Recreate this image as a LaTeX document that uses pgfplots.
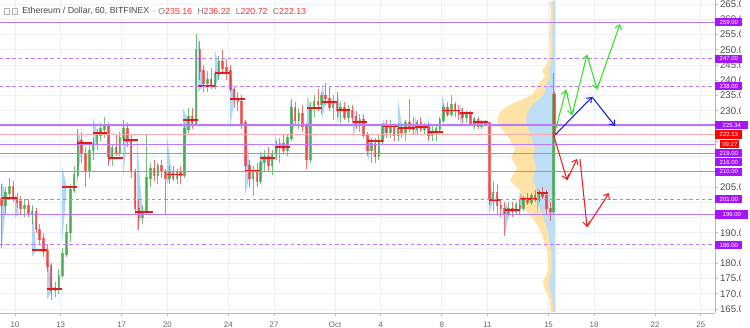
\documentclass[border=0pt]{standalone}
\usepackage{pgfplots}
\pgfplotsset{compat=1.18}
\usepackage{pgfplotstable}
\usepackage{fontspec}
\setmainfont{Liberation Sans}
\usetikzlibrary{arrows.meta}

\definecolor{gridc}{RGB}{236,240,247}
\definecolor{upc}{RGB}{60,165,60}
\definecolor{dnc}{RGB}{240,55,55}
\definecolor{pocc}{RGB}{232,25,25}
\definecolor{levc}{RGB}{188,120,250}
\definecolor{tagv}{RGB}{165,20,250}
\definecolor{salm}{RGB}{250,170,170}
\definecolor{vpo}{RGB}{255,226,165}
\definecolor{vpb}{RGB}{190,222,247}
\definecolor{sesb}{RGB}{110,178,240}
\definecolor{arg}{RGB}{50,225,40}
\definecolor{arb}{RGB}{25,25,225}
\definecolor{arr}{RGB}{240,30,30}
\definecolor{titc}{RGB}{70,70,70}
\definecolor{numr}{RGB}{250,50,50}

\pgfplotstableread{
x o h l c
-0.875 201 206 185 199
-0.625 199 205 196 203
-0.375 203 208 201 205
-0.125 205 207 200 201
0.125 201 203 198 200
0.375 200 202 196 198
0.625 198 201 195 199
0.875 199 201 195 196
1.125 196 199 193 197
1.375 197 198 190 191
1.625 191 193 186 188
1.875 188 190 182 184
2.125 184 186 177 179
2.375 179 180 168 171
2.625 171 174 169 172
2.875 172 178 170 176
3.125 176 185 175 183
3.375 183 193 182 190
3.625 190 206 187 204
3.875 204 212 203 209
4.125 209 224 208 220
4.375 220 223 213 216
4.625 216 218 205 210
4.875 210 219 208 217
5.125 217 221 214 219
5.375 219 224 217 222
5.625 222 226 220 224
5.875 224 228 221 225
6.125 225 226 212 215
6.375 215 219 212 218
6.625 218 222 215 216
6.875 216 223 215 221
7.125 221 227 219 224
7.375 224 226 218 220
7.625 220 222 208 210
7.875 210 211 196 198
8.125 198 201 191 195
8.375 195 199 193 197
8.625 197 222 196 208
8.875 208 213 205 211
9.125 211 214 207 209
9.375 209 213 206 212
9.625 212 214 208 210
9.875 210 211 196 208
10.125 208 212 206 210
10.375 210 212 207 208
10.625 208 211 206 210
10.875 210 212 206 209
11.125 209 226 208 224
11.375 224 231 222 228
11.625 228 231 224 226
11.875 226 255 225 250
12.125 250 253 240 243
12.375 243 245 236 239
12.625 239 243 236 240
12.875 240 244 237 238
13.125 238 243 237 242
13.375 242 248 240 246
13.625 246 250 242 244
13.875 244 247 240 243
14.125 243 245 236 237
14.375 237 238 231 234
14.625 234 236 230 233
14.875 233 235 224 226
15.125 226 227 210 212
15.375 212 214 205 208
15.625 208 212 202 210
15.875 210 213 205 207
16.125 207 214 206 213
16.375 213 217 210 215
16.625 215 218 210 212
16.875 212 217 209 216
17.125 216 220 214 218
17.375 218 221 213 219
17.625 219 222 216 217
17.875 217 222 215 221
18.125 221 234 220 231
18.375 231 233 225 227
18.625 227 231 224 229
18.875 229 232 223 225
19.125 225 226 211 214
19.375 214 233 213 231
19.625 231 235 228 233
19.875 233 237 230 232
20.125 232 236 229 235
20.375 235 239 232 234
20.625 234 238 230 231
20.875 231 235 227 233
21.125 233 236 228 230
21.375 230 233 226 231
21.625 231 233 227 228
21.875 228 232 226 230
22.125 230 232 226 228
22.375 228 230 224 226
22.625 226 229 223 227
22.875 227 229 221 222
23.125 222 223 215 217
23.375 217 221 213 219
23.625 219 221 213 215
23.875 215 222 214 220
24.125 220 226 219 225
24.375 225 227 221 223
24.625 223 227 221 225
24.875 225 226 220 222
25.125 222 226 220 224
25.375 224 226 221 223
25.625 223 227 220 226
25.875 226 234 223 225
26.125 225 228 222 224
26.375 224 227 222 226
26.625 226 228 223 224
26.875 224 226 222 225
27.125 225 226 220 222
27.375 222 225 220 223
27.625 223 225 220 224
27.875 224 228 223 227
28.125 227 232 226 231
28.375 231 233 228 229
28.625 229 235 228 232
28.875 232 233 228 230
29.125 230 232 227 229
29.375 229 231 226 228
29.625 228 230 226 229
29.875 229 230 225 226
30.125 226 228 224 227
30.375 227 228 224 225
30.625 225 227 224 226
30.875 226 227 225 226
31.125 226 226 199 201
31.375 201 207 197 203
31.625 203 206 196 199
31.875 199 201 195 198
32.125 198 200 189 196
32.375 196 200 195 198
32.625 198 200 195 197
32.875 197 200 196 199
33.125 199 201 196 198
33.375 198 202 197 201
33.625 201 203 199 200
33.875 200 203 199 202
34.125 202 204 200 201
34.375 201 204 200 203
34.625 203 205 201 202
34.875 202 204 196 198
35.125 198 200 194 197
35.33 197 242.4 196 235.2
35.40 235.16 236.22 220.72 222.13
}\candles

\newcommand{\seg}[5]{\addplot[#1, line width=0.6pt, mark=none, -{Straight Barb[length=2.5pt,width=4pt]}] coordinates {(#2,#3) (#4,#5)};}
\newcommand{\lev}[2]{\addplot[#1, mark=none] coordinates {(-1,#2) (46,#2)};}
\pgfplotsset{candle/.style n args={2}{draw=none, mark=none, forget plot,
  error bars/.cd, y dir=both, y explicit, error mark=none,
  error bar style={draw=#1, draw opacity=0.7, solid, line width=#2}}}

\begin{document}
\begin{tikzpicture}
\begin{axis}[
  at={(0,0)}, anchor=south west,
  scale only axis, width=14.3cm, height=6.26cm,
  xmin=-0.984, xmax=45.93, ymin=163.69, ymax=266.31,
  clip mode=individual,
  axis x line*=bottom, axis y line*=right,
  axis line style={gray!55, line width=0.5pt},
  tick align=outside, major tick length=0.06cm,
  tick style={gray!55, line width=0.4pt},
  xtick={0,3,7,10,14,17,21,24,28,31,35,38,42,45},
  xticklabels={10,13,17,20,24,27,Oct,4,8,11,15,18,22,25},
  ytick={165,170,...,265},
  yticklabels={165.0,170.0,175.0,180.0,,190.0,,,205.0,,,,,230.0,235.0,240.0,245.0,250.0,255.0,260.0,265.0},
  grid=major, major grid style={gridc, line width=0.5pt},
  yticklabel style={font=\fontsize{5.5}{6}\selectfont, text=black!70, inner xsep=1pt},
  xticklabel style={font=\fontsize{4.5}{5}\selectfont, text=black!60},
  unbounded coords=jump,
]
% big volume profile
\addplot[fill=vpo, draw=none, mark=none] coordinates {
(35.45,164) (35.17,164) (35.10,166) (35.10,168) (34.91,170) (34.71,172) (34.65,174) (34.84,176)
(34.97,178) (34.97,180) (34.97,182) (34.91,184) (34.78,186) (34.65,188) (34.51,190) (34.32,192)
(34.12,193.5) (33.92,195) (33.66,196.5) (33.46,198) (33.20,199.5) (33.01,201) (33.07,202.5) (33.14,204)
(32.81,205.5) (32.48,207) (32.61,208.5) (32.81,210) (32.94,211.5) (32.74,213) (32.55,214.5) (32.68,216)
(32.81,217.5) (32.61,219) (32.48,220.5) (32.22,222) (32.02,223.5) (31.82,225) (31.63,226.5) (31.69,228)
(31.82,229.5) (32.15,231) (32.68,232.5) (33.46,234) (33.99,235.5) (34.19,237) (34.32,238.5) (34.58,240)
(34.78,241.5) (34.58,243) (34.84,245) (35.04,247) (35.10,250) (35.04,255) (35.10,259) (35.17,262) (35.04,265.5) (35.45,266.3)
} -- cycle;
\addplot[fill=vpb, draw=none, mark=none] coordinates {
(35.45,164) (35.31,164) (35.275,166) (35.275,168) (35.18,170) (35.08,172) (35.05,174) (35.145,176)
(35.21,178) (35.21,180) (35.21,182) (35.18,184) (35.115,186) (35.05,188) (34.98,190) (34.885,192)
(34.785,193.5) (34.685,195) (34.555,196.5) (34.455,198) (34.325,199.5) (34.23,201) (34.26,202.5) (34.295,204)
(34.13,205.5) (33.965,207) (34.03,208.5) (34.13,210) (34.195,211.5) (34.095,213) (34.00,214.5) (34.065,216)
(34.13,217.5) (34.03,219) (33.965,220.5) (33.835,222) (33.735,223.5) (33.635,225) (33.54,226.5) (33.57,228)
(33.635,229.5) (33.80,231) (34.065,232.5) (34.455,234) (34.72,235.5) (34.82,237) (34.885,238.5) (35.015,240)
(35.115,241.5) (35.015,243) (35.145,245) (35.245,247) (35.275,250) (35.245,255) (35.275,259) (35.31,262) (35.245,265.5) (35.45,266.3)
} -- cycle;
% session volume profiles
\addplot[fill=sesb, fill opacity=0.55, draw=none, mark=none] coordinates {
(-0.85,186) (-0.55,201.4) (-0.85,207) (-0.85,nan)
(0,195) (0.25,196) (0,203) (0,nan)
(1.12,182) (1.4,184.3) (1.12,199) (1.12,nan)
(2.10,168) (2.5,171.6) (2.10,182) (2.10,nan)
(3.08,186) (3.4,205) (3.08,212) (3.08,nan)
(4.07,205) (4.4,219.4) (4.07,224) (4.07,nan)
(5.12,214) (5.4,222.7) (5.12,228) (5.12,nan)
(6.10,212) (6.35,214.5) (6.10,227) (6.10,nan)
(7.09,208) (7.35,220.4) (7.09,227) (7.09,nan)
(8.0,190) (8.35,196.8) (8.0,222) (8.0,nan)
(9.97,206) (10.3,209) (9.97,222) (9.97,nan)
(11.02,208) (11.35,227) (11.02,231) (11.02,nan)
(12.01,236) (12.35,238.1) (12.01,255) (12.01,nan)
(13.12,237) (13.45,242.4) (13.12,250) (13.12,nan)
(14.11,224) (14.4,233.9) (14.11,245) (14.11,nan)
(15.09,202) (15.45,210.2) (15.09,227) (15.09,nan)
(16.08,206) (16.35,214.5) (16.08,217) (16.08,nan)
(17.06,213) (17.3,218.1) (17.06,222) (17.06,nan)
(18.04,220) (18.35,225.3) (18.04,234) (18.04,nan)
(19.16,211) (19.45,230.9) (19.16,235) (19.16,nan)
(20.14,227) (20.4,232.9) (20.14,239) (20.14,nan)
(21.13,226) (21.4,230.2) (21.13,236) (21.13,nan)
(22.18,221) (22.45,226.3) (22.18,232) (22.18,nan)
(23.16,213) (23.4,220.1) (23.16,222) (23.16,nan)
(24.15,219) (24.4,225) (24.15,227) (24.15,nan)
(25.13,220) (25.4,224.3) (25.13,234) (25.13,nan)
(26.25,222) (26.5,224.7) (26.25,228) (26.25,nan)
(27.10,220) (27.35,223) (27.10,228) (27.10,nan)
(28.02,226) (28.3,230) (28.02,235) (28.02,nan)
(29.20,225) (29.45,229.3) (29.20,232) (29.20,nan)
(30.05,224) (30.3,226.3) (30.05,228) (30.05,nan)
(31.10,196) (31.4,200.7) (31.10,207) (31.10,nan)
(32.15,189) (32.45,197.5) (32.15,200) (32.15,nan)
(33.14,196) (33.4,201) (33.14,203) (33.14,nan)
(34.25,196) (34.5,203) (34.25,205)
};
% candles: wicks
\addplot[candle={upc}{0.45pt}]
  table[x=x, y expr={(\thisrow{c}>=\thisrow{o}) ? ((\thisrow{h}+\thisrow{l})/2) : (-1000)}, y error expr={(\thisrow{h}-\thisrow{l})/2}] {\candles};
\addplot[candle={dnc}{0.45pt}]
  table[x=x, y expr={(\thisrow{c}<\thisrow{o}) ? ((\thisrow{h}+\thisrow{l})/2) : (-1000)}, y error expr={(\thisrow{h}-\thisrow{l})/2}] {\candles};
% candles: bodies
\addplot[candle={upc}{1.45pt}]
  table[x=x, y expr={(\thisrow{c}>=\thisrow{o}) ? ((\thisrow{o}+\thisrow{c})/2) : (-1000)}, y error expr={abs(\thisrow{c}-\thisrow{o})/2+0.25}] {\candles};
\addplot[candle={dnc}{1.45pt}]
  table[x=x, y expr={(\thisrow{c}<\thisrow{o}) ? ((\thisrow{o}+\thisrow{c})/2) : (-1000)}, y error expr={abs(\thisrow{c}-\thisrow{o})/2+0.25}] {\candles};
% session POC lines
\addplot[pocc, line width=0.8pt, mark=none] coordinates {
(-0.85,201.4) (0.13,201.4) (0.13,nan)
(0,196) (1.18,196) (1.18,nan)
(1.12,184.3) (2.10,184.3) (2.10,nan)
(2.10,171.6) (3.08,171.6) (3.08,nan)
(3.08,205) (4.07,205) (4.07,nan)
(4.07,219.4) (5.05,219.4) (5.05,nan)
(5.12,222.7) (6.04,222.7) (6.04,nan)
(6.10,214.5) (7.09,214.5) (7.09,nan)
(7.09,220.4) (8.07,220.4) (8.07,nan)
(7.87,196.8) (9.06,196.8) (9.06,nan)
(9.97,209) (11.02,209) (11.02,nan)
(11.02,227) (12.01,227) (12.01,nan)
(12.01,238.1) (13.12,238.1) (13.12,nan)
(13.12,242.4) (14.11,242.4) (14.11,nan)
(14.11,233.9) (15.09,233.9) (15.09,nan)
(15.09,210.2) (16.08,210.2) (16.08,nan)
(16.08,214.5) (17.06,214.5) (17.06,nan)
(17.06,218.1) (18.04,218.1) (18.04,nan)
(18.04,225.3) (19.16,225.3) (19.16,nan)
(19.16,230.9) (20.14,230.9) (20.14,nan)
(20.14,232.9) (21.13,232.9) (21.13,nan)
(21.13,230.2) (21.98,230.2) (21.98,nan)
(22.18,226.3) (23.10,226.3) (23.10,nan)
(23.16,220.1) (24.15,220.1) (24.15,nan)
(24.15,225) (25.13,225) (25.13,nan)
(25.13,224.3) (26.25,224.3) (26.25,nan)
(26.25,224.7) (27.10,224.7) (27.10,nan)
(27.10,223) (28.08,223) (28.08,nan)
(28.02,230) (29.20,230) (29.20,nan)
(29.20,229.3) (30.05,229.3) (30.05,nan)
(30.05,226.3) (31.04,226.3) (31.04,nan)
(31.10,200.7) (31.82,200.7) (31.82,nan)
(32.15,197.5) (33.14,197.5) (33.14,nan)
(33.14,201) (34.25,201) (34.25,nan)
(34.25,203) (34.97,203)
};
% horizontal levels
\lev{levc, line width=0.7pt}{259}
\lev{levc, line width=0.55pt, dash pattern=on 2pt off 1.6pt}{247}
\lev{levc, line width=0.55pt, dash pattern=on 2pt off 1.6pt}{238}
\lev{levc, line width=0.7pt}{225.34}
\lev{salm, line width=0.75pt}{222.13}
\lev{levc, line width=0.7pt}{219}
\lev{levc, line width=0.7pt}{216}
\lev{levc, line width=0.7pt}{210}
\lev{levc, line width=0.55pt, dash pattern=on 2pt off 1.6pt}{201}
\lev{levc, line width=0.7pt}{196}
\lev{levc, line width=0.55pt, dash pattern=on 2pt off 1.6pt}{186}
% projection arrows
\seg{arg}{35.43}{223.0}{36.15}{236.8}
\seg{arg}{36.15}{236.8}{36.55}{228.6}
\seg{arg}{36.55}{228.6}{37.53}{248.3}
\seg{arg}{37.53}{248.3}{38.19}{237.1}
\seg{arg}{38.19}{237.1}{39.70}{258.4}
\seg{arb}{35.43}{222.0}{37.86}{234.5}
\seg{arb}{37.86}{234.5}{39.37}{225.0}
\seg{arr}{35.30}{222.7}{36.22}{207.3}
\seg{arr}{36.22}{207.3}{36.88}{214.2}
\seg{arr}{37.07}{214.2}{37.53}{191.9}
\seg{arr}{37.53}{191.9}{38.98}{203.0}
% tag anchors
\coordinate (t259) at (axis cs:45.93,259);
\coordinate (t247) at (axis cs:45.93,247);
\coordinate (t238) at (axis cs:45.93,238);
\coordinate (t225) at (axis cs:45.93,225.34);
\coordinate (t222) at (axis cs:45.93,222.2);
\coordinate (tcd) at (axis cs:45.93,219.1);
\coordinate (t219) at (axis cs:45.93,216.1);
\coordinate (t216) at (axis cs:45.93,213.1);
\coordinate (t210) at (axis cs:45.93,210);
\coordinate (t201) at (axis cs:45.93,201);
\coordinate (t196) at (axis cs:45.93,196);
\coordinate (t186) at (axis cs:45.93,186);
\end{axis}
% mask for cut-off price labels
\fill[white] (14.82,-0.3) rectangle (15.2,6.3);
\tikzset{tag/.style={anchor=west, fill=tagv, text=white, font=\fontsize{3.4}{4}\selectfont, inner sep=0pt, minimum height=0.165cm, minimum width=0.54cm}}
\node[tag] at (t259) {259.00};
\node[tag] at (t247) {247.00};
\node[tag] at (t238) {238.00};
\node[tag, minimum width=0.66cm] at (t225) {225.34};
\node[tag, fill=red] at (t222) {222.13};
\node[tag, fill=red, minimum width=0.38cm, xshift=0.1cm] at (tcd) {09:27};
\node[tag] at (t219) {219.00};
\node[tag] at (t216) {216.00};
\node[tag] at (t210) {210.00};
\node[tag] at (t201) {201.00};
\node[tag, minimum width=0.66cm] at (t196) {196.00};
\node[tag] at (t186) {186.00};
% title
\draw[gray!60, line width=0.3pt] (0.08,5.98) rectangle (0.19,6.10);
\draw[gray!60, line width=0.3pt] (0.25,5.98) rectangle (0.34,6.10);
\node[anchor=west, inner sep=0pt, font=\fontsize{5}{6}\selectfont, text=titc] at (0.44,6.04) {Ethereum / Dollar, 60, BITFINEX\hspace{2pt}\textcolor{gray!60}{-}};
\node[anchor=west, inner sep=0pt, font=\fontsize{5}{6}\selectfont] at (3.16,6.04) {\textcolor{gray}{O}\textcolor{numr}{235.16}\hspace{3pt}\textcolor{gray}{H}\textcolor{numr}{236.22}\hspace{3pt}\textcolor{gray}{L}\textcolor{numr}{220.72}\hspace{3pt}\textcolor{gray}{C}\textcolor{numr}{222.13}};
\pgfresetboundingbox
\path[use as bounding box] (0,-0.28) rectangle (15,6.26);
\end{tikzpicture}
\end{document}
